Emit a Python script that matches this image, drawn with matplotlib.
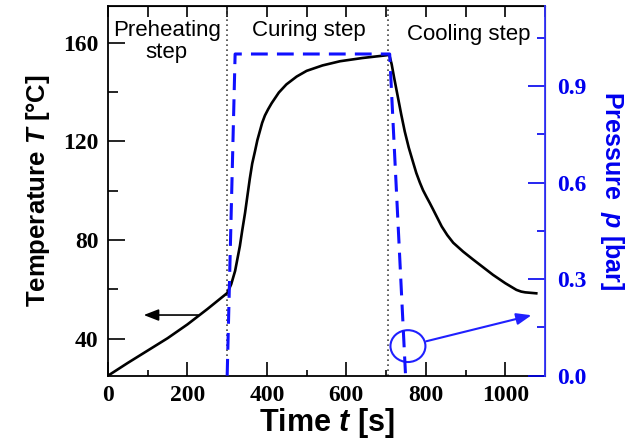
import matplotlib
matplotlib.use('Agg')
import matplotlib.pyplot as plt
from matplotlib.patches import Ellipse
from matplotlib.ticker import MultipleLocator, FormatStrFormatter

plt.rcParams['font.family'] = 'serif'
plt.rcParams['font.serif'] = ['Liberation Serif']
plt.rcParams['font.weight'] = 'bold'
plt.rcParams['mathtext.fontset'] = 'custom'
plt.rcParams['mathtext.it'] = 'Liberation Sans:italic:bold'
plt.rcParams['mathtext.rm'] = 'Liberation Sans:bold'

# temperature profile (s, degC)
time_T = [0, 50, 100, 150, 200, 250, 300, 310, 320, 332, 338, 345, 351, 357, 363,
          370, 376, 382, 388, 395, 403, 412, 430, 449, 475, 500, 540, 584, 640,
          700, 708, 714, 720, 730, 738, 747, 757, 768, 776, 785, 793, 802, 810,
          818, 829, 840, 854, 869, 894, 919, 944, 969, 1000, 1028, 1040, 1050, 1078]
temp = [25, 30.2, 35.2, 40.2, 45.8, 52, 58.5, 62, 67.5, 77.6, 84, 91, 98, 104.9,
        111, 116, 120.5, 124, 127.5, 130.5, 133, 135.5, 139.8, 143.1, 146.3, 148.6,
        150.8, 152.5, 153.8, 154.9, 155.1, 151.3, 146, 137.7, 131, 124, 117.5, 111.5,
        107.2, 103.3, 100.2, 97.4, 95, 92.5, 89, 85.5, 82, 78.9, 75.3, 72.1, 69, 65.9,
        62.5, 59.8, 59.1, 58.8, 58.4]

# applied pressure (s, bar)
time_p = [300, 320, 709, 749]
pres = [0.0, 1.0, 1.0, 0.0]

step_bounds = [300, 705]

sans = 'Liberation Sans'

fig = plt.figure(figsize=(6.3, 4.42), dpi=100)
ax = fig.add_axes([0.1714, 0.15, 0.6937, 0.837])

ax.plot(time_T, temp, color='black', lw=1.9, zorder=3)
for tb in step_bounds:
    ax.axvline(tb, color='#444444', ls=(0, (1, 2)), lw=1.2, zorder=2)

ax.set_xlim(0, 1100)
ax.set_ylim(25, 175)
ax.xaxis.set_major_locator(MultipleLocator(200))
ax.xaxis.set_minor_locator(MultipleLocator(100))
ax.yaxis.set_major_locator(MultipleLocator(40))
ax.yaxis.set_minor_locator(MultipleLocator(20))
ax.tick_params(which='both', direction='in', top=False, right=False,
               labelsize=17, width=1.2)
ax.tick_params(axis='x', which='major', length=10, pad=7)
ax.tick_params(axis='x', which='minor', length=4)
ax.tick_params(axis='y', which='major', length=12, pad=7)
ax.tick_params(axis='y', which='minor', length=7)
for s in ['left', 'bottom', 'top']:
    ax.spines[s].set_linewidth(1.3)

top = ax.secondary_xaxis('top')
top.set_xticks(range(0, 1101, 100))
top.tick_params(direction='in', length=8, width=1.2, labeltop=False)

ax.set_xlabel('Time $t$ [s]', family=sans, fontsize=22,
              fontweight='bold', labelpad=0)
ax.set_ylabel('Temperature $T$ [°C]', family=sans, fontsize=18.5,
              fontweight='bold', labelpad=8)

ax.text(148, 160.5, 'Preheating\nstep', family=sans, fontweight='normal',
        fontsize=16, ha='center', va='center', linespacing=1.1)
ax.text(505, 165, 'Curing step', family=sans, fontweight='normal',
        fontsize=16, ha='center', va='center')
ax.text(908, 163.4, 'Cooling step', family=sans, fontweight='normal',
        fontsize=16, ha='center', va='center')

ax.annotate('', xy=(90, 49.6), xytext=(227, 49.6),
            arrowprops=dict(arrowstyle='-|>,head_length=0.9,head_width=0.35',
                            color='black', lw=1.2, shrinkA=0, shrinkB=0))

ax2 = ax.twinx()
ax2.plot(time_p, pres, color='#1010ff', lw=2.2, ls=(0, (5.5, 3)), zorder=4)
ax2.set_ylim(0, 1.15)
ax2.yaxis.set_major_locator(MultipleLocator(0.3))
ax2.yaxis.set_minor_locator(MultipleLocator(0.15))
ax2.yaxis.set_major_formatter(FormatStrFormatter('%.1f'))
for s in ['left', 'bottom', 'top']:
    ax2.spines[s].set_visible(False)
ax2.spines['right'].set_color('#3333ff')
ax2.spines['right'].set_linewidth(1.3)
ax2.tick_params(axis='y', which='both', direction='in', colors='#0000ee',
                labelsize=17, width=1.2, pad=9)
ax2.tick_params(axis='y', which='major', length=12)
ax2.tick_params(axis='y', which='minor', length=6)
ax2.set_ylabel('Pressure  $p$ [bar]', family=sans, fontsize=18,
               fontweight='bold', color='#0000ee', rotation=-90, labelpad=28)

ax2.add_patch(Ellipse((755, 0.092), 88, 0.099, fill=False,
                      edgecolor='#2020ff', lw=1.5))
ax2.annotate('', xy=(1066, 0.188), xytext=(801, 0.107),
             arrowprops=dict(arrowstyle='-|>,head_length=0.9,head_width=0.35',
                             color='#2020ff', lw=1.5, shrinkA=0, shrinkB=0))

fig.savefig('out.png', dpi=100)
